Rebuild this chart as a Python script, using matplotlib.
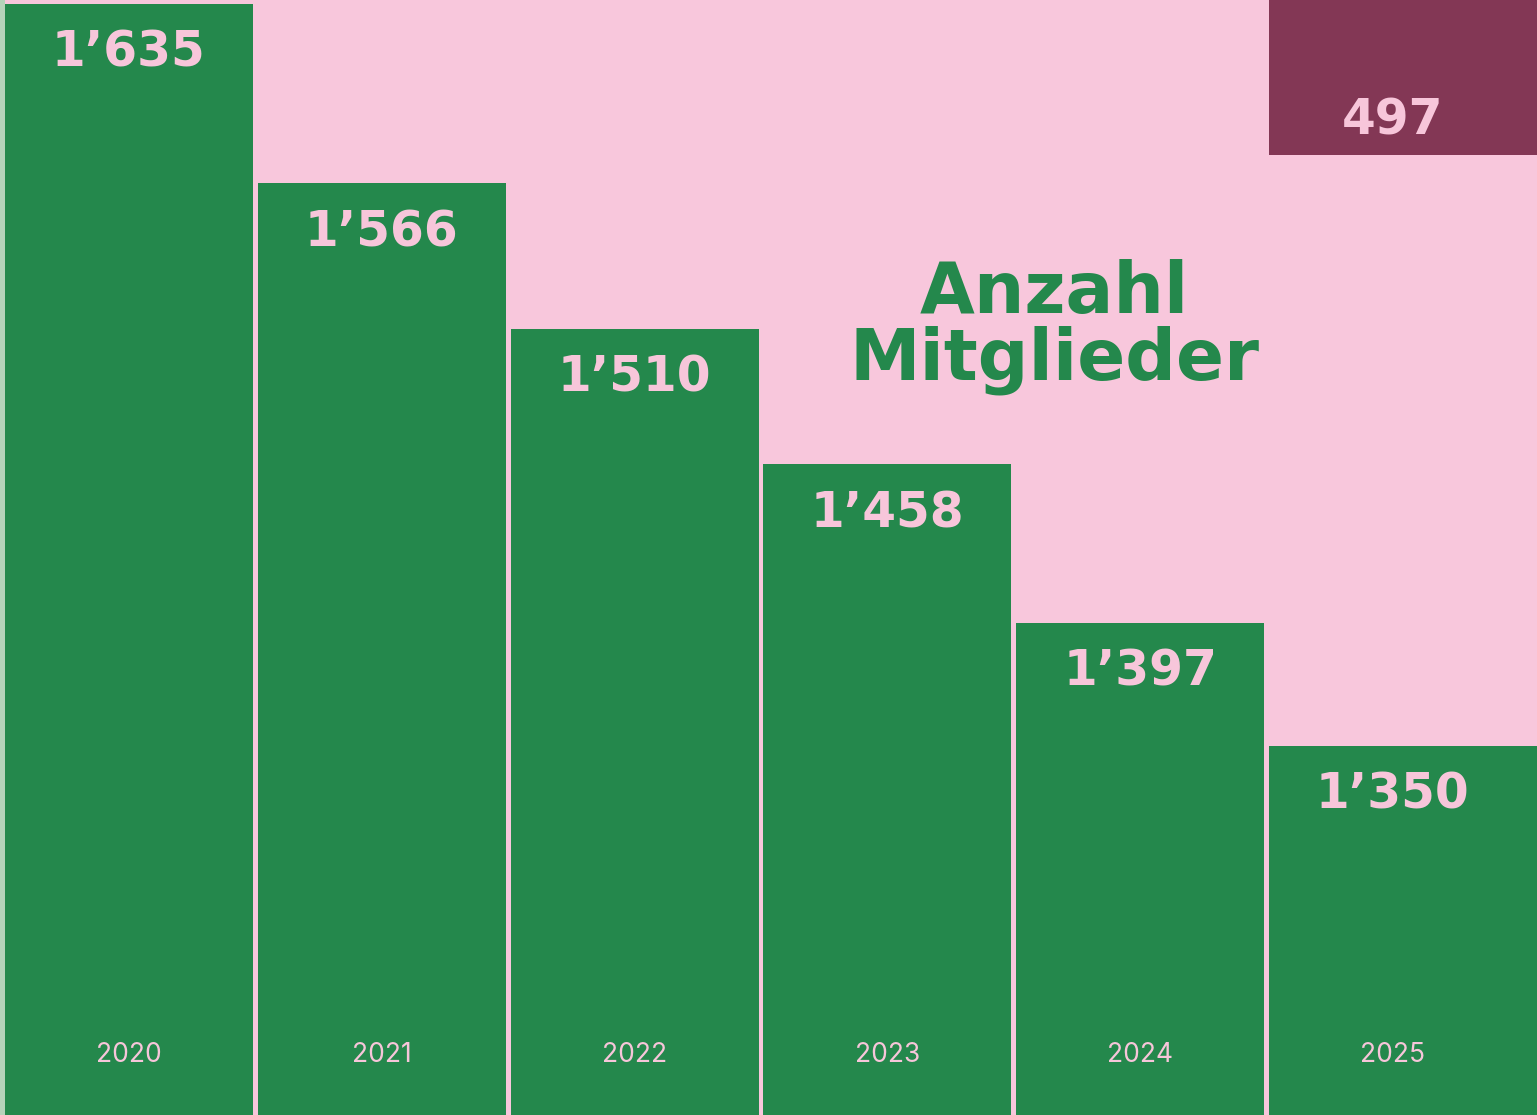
import numpy as np
import matplotlib
matplotlib.use("Agg")
import matplotlib.pyplot as plt
import matplotlib.transforms as mtransforms

# data
years = ["2020", "2021", "2022", "2023", "2024", "2025"]
members = [1635, 1566, 1510, 1458, 1397, 1350]
extra_value = 497  # shown in the maroon box above 2025
title = "Anzahl\nMitglieder"

# colours
PINK = "#F8C7DC"
GREEN = "#24884C"
MAROON = "#833755"
LABEL_PINK = "#F7C6DA"

def fmt(v):
    s = f"{v:,}".replace(",", "\u2019")
    return s

fig = plt.figure(figsize=(15.37, 11.15), dpi=100)
fig.patch.set_facecolor(PINK)
ax = fig.add_axes([0, 0, 1, 1])
ax.set_facecolor(PINK)

x = np.arange(len(years))
ymin, ymax = 1208, 1636.5
xmin, xmax = -0.51, 5.57
ax.set_xlim(xmin, xmax)
ax.set_ylim(ymin, ymax)

# faint strip at the far left edge
ax.axvspan(xmin, -0.49, color="#B5D3BA", lw=0)

# bars, the last one runs off the right edge
widths = np.full(len(years), 0.981)
widths[-1] = 1.2
lefts = x - 0.4905
ax.bar(lefts, np.array(members) - ymin, bottom=ymin, width=widths,
       align="edge", color=GREEN, lw=0)

# maroon box hanging from the top over the last year
box_h = 59.6
ax.bar(lefts[-1], box_h, bottom=ymax - box_h, width=widths[-1], align="edge",
       color=MAROON, lw=0)
ax.annotate(fmt(extra_value), (x[-1], ymax - box_h), xytext=(0, 25),
            textcoords="offset points", ha="center", va="center",
            fontsize=35, fontweight="heavy", color=LABEL_PINK,
            family="DejaVu Sans")

# value labels inside bars
for xi, v in zip(x, members):
    ax.annotate(fmt(v), (xi, v), xytext=(0, -35), textcoords="offset points",
                ha="center", va="center", fontsize=35, fontweight="heavy",
                color=LABEL_PINK, family="DejaVu Sans")

# year labels near the bottom
trans = mtransforms.blended_transform_factory(ax.transData, ax.transAxes)
for xi, yr in zip(x, years):
    ax.text(xi, 0.054, yr, transform=trans, ha="center", va="center",
            fontsize=19, fontweight="normal", color=LABEL_PINK, family="Inter")

# title
ax.text(0.686, 0.707, title, transform=ax.transAxes, ha="center", va="center",
        fontsize=51, fontweight="heavy", color=GREEN, family="DejaVu Sans",
        linespacing=0.95)

ax.axis("off")
fig.savefig("out.png", dpi=100, facecolor=PINK)
